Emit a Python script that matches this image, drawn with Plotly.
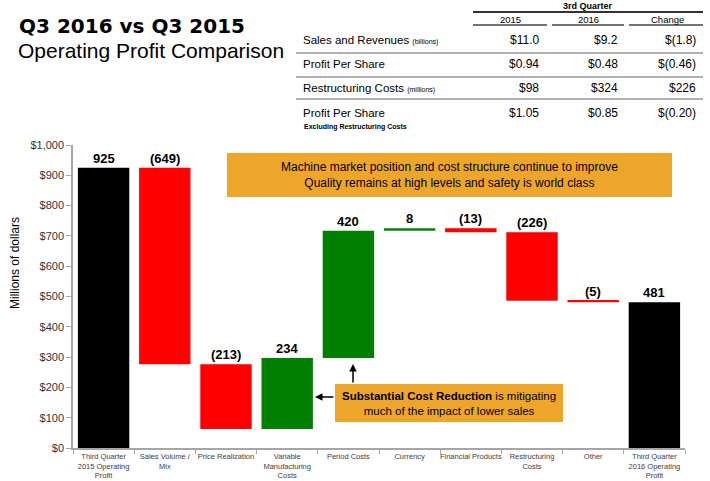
import plotly.graph_objects as go

# ---------------- data ----------------
categories = [
    "Third Quarter<br>2015 Operating<br>Profit",
    "Sales Volume /<br>Mix",
    "Price Realization",
    "Variable<br>Manufacturing<br>Costs",
    "Period Costs",
    "Currency",
    "Financial Products",
    "Restructuring<br>Costs",
    "Other",
    "Third Quarter<br>2016 Operating<br>Profit",
]
values = [925, -649, -213, 234, 420, 8, -13, -226, -5, 481]
measures = ["absolute"] + ["relative"] * 8 + ["total"]

table_rows = ["Sales and Revenues", "Profit Per Share", "Restructuring Costs", "Profit Per Share"]
row_units = ["(billions)", "", "(millions)", ""]
col_headers = ["2015", "2016", "Change"]
vals_2015 = ["$11.0", "$0.94", "$98", "$1.05"]
vals_2016 = ["$9.2", "$0.48", "$324", "$0.85"]
vals_change = ["$(1.8)", "$(0.46)", "$226", "$(0.20)"]

# ---------------- styling ----------------
W, H = 710, 481
L, R, T, B = 73, 25, 145, 33
PW, PH = W - L - R, H - T - B
ARIAL = "Liberation Sans, Arial, sans-serif"
GREEN, RED, BLACK = "#008000", "#FF0000", "#000000"
ORANGE = "#EEA62A"


def px(xp):
    return (xp - L) / PW


def py(yp):
    return (H - B - yp) / PH


def note(xp, yp, text, size, xanchor="center", yanchor="middle", family=ARIAL, **kw):
    d = dict(x=px(xp), y=py(yp), xref="paper", yref="paper", xanchor=xanchor, yanchor=yanchor,
             text=text, showarrow=False, font=dict(family=family, size=size, color="#000"))
    d.update(kw)
    return d


fig = go.Figure()
fig.add_trace(go.Waterfall(
    x=categories, y=values, measure=measures,
    increasing=dict(marker=dict(color=GREEN)),
    decreasing=dict(marker=dict(color=RED)),
    totals=dict(marker=dict(color=BLACK)),
    connector=dict(visible=False),
    hoverinfo="skip",
))

ann = []
shapes = []

# value labels above each bar
run = 0
for c, v, m in zip(categories, values, measures):
    if m == "absolute":
        top = v
        run = v
    elif m == "total":
        top = run
    else:
        top = max(run, run + v)
        run += v
    label = f"{v:,}" if v >= 0 else f"({-v:,})"
    ann.append(dict(x=c, y=top, xref="x", yref="y", text=f"<b>{label}</b>", showarrow=False,
                    xanchor="center", yanchor="bottom",
                    font=dict(family=ARIAL, size=13, color="#000")))

# titles
ann.append(note(17, 26, "<b>Q3 2016 vs Q3 2015</b>", 20, xanchor="left",
                family="DejaVu Sans, sans-serif"))
ann.append(note(16, 50, "Operating Profit Comparison", 21, xanchor="left"))

# y axis title
ann.append(note(15, 263, "Millions of dollars", 12, textangle=-90))

# ---- table ----
ann.append(note(588, 6, "<b>3rd Quarter</b>", 9))
shapes.append(dict(type="line", xref="paper", yref="paper", x0=px(473), x1=px(703),
                   y0=py(12), y1=py(12), line=dict(color="#333", width=2)))
col_centers = [510, 588, 667]
col_seg = [(473, 547), (552, 624), (629, 703)]
col_right = [541, 620, 698]
for h, xc, (a, b) in zip(col_headers, col_centers, col_seg):
    ann.append(note(xc, 19, h, 9.5))
    shapes.append(dict(type="line", xref="paper", yref="paper", x0=px(a), x1=px(b),
                       y0=py(25), y1=py(25), line=dict(color="#444", width=1.5)))
row_y = [40, 64, 88, 113]
for i, name in enumerate(table_rows):
    t = name
    if row_units[i]:
        t += f" <span style='font-size:7px'>{row_units[i]}</span>"
    ann.append(note(301, row_y[i], t, 11.5, xanchor="left"))
    for vals, xr in zip([vals_2015, vals_2016, vals_change], col_right):
        ann.append(note(xr, row_y[i], vals[i], 12, xanchor="right"))
ann.append(note(302, 127, "<b>Excluding Restructuring Costs</b>", 7, xanchor="left"))
for yl in [53, 77, 99]:
    shapes.append(dict(type="line", xref="paper", yref="paper", x0=px(296), x1=px(703),
                       y0=py(yl), y1=py(yl), line=dict(color="#B0B0B0", width=2)))

# ---- callout boxes ----
shapes.append(dict(type="rect", xref="paper", yref="paper", x0=px(227), x1=px(672),
                   y0=py(197), y1=py(153), fillcolor=ORANGE, line=dict(width=0), layer="below"))
ann.append(note(449, 175,
                "Machine market position and cost structure continue to improve<br>"
                "Quality remains at high levels and safety is world class", 12))
shapes.append(dict(type="rect", xref="paper", yref="paper", x0=px(335), x1=px(563),
                   y0=py(422), y1=py(384), fillcolor=ORANGE, line=dict(width=0), layer="above"))
ann.append(note(449, 403,
                "<b>Substantial Cost Reduction</b> is mitigating<br>much of the impact of lower sales",
                11.5))
# arrows
ann.append(dict(x=px(315), y=py(397), xref="paper", yref="paper", ax=20, ay=0, text="",
                showarrow=True, arrowhead=2, arrowsize=1, arrowwidth=1.5, arrowcolor="#000"))
ann.append(dict(x=px(353), y=py(364), xref="paper", yref="paper", ax=0, ay=20, text="",
                showarrow=True, arrowhead=2, arrowsize=1, arrowwidth=1.5, arrowcolor="#000"))

fig.update_layout(
    width=W, height=H, autosize=False,
    margin=dict(l=L, r=R, t=T, b=B),
    paper_bgcolor="white", plot_bgcolor="white",
    showlegend=False, waterfallgap=0.16,
    annotations=ann, shapes=shapes,
    xaxis=dict(type="category", showline=True, linecolor="#A6A6A6", linewidth=1.5,
               ticks="outside", tickson="boundaries", ticklen=4, tickcolor="#A6A6A6",
               tickangle=0, automargin=False,
               tickfont=dict(family=ARIAL, size=7.5, color="#404040"), showgrid=False, zeroline=False,
               fixedrange=True),
    yaxis=dict(range=[0, 1000], dtick=100, tickprefix="$", tickformat=",", showline=True,
               linecolor="#A6A6A6", linewidth=1.5, ticks="outside", ticklen=5, tickcolor="#A6A6A6",
               automargin=False,
               tickfont=dict(family=ARIAL, size=11, color="#333"), showgrid=False, zeroline=False,
               fixedrange=True),
)

fig.write_html("out.html", config={"displayModeBar": False},
               post_script="document.body.style.margin='0';document.body.style.overflow='hidden';")
